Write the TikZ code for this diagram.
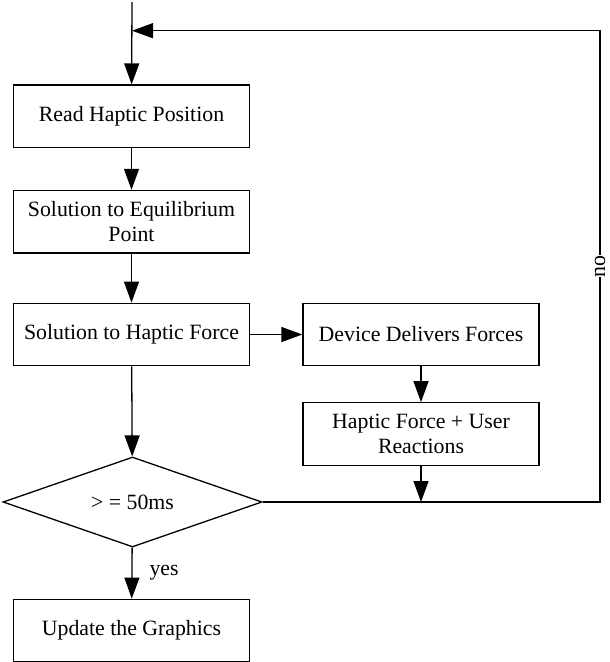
\documentclass[tikz,border=0pt]{standalone}
\usepackage{fontspec}
\setmainfont{Liberation Serif}
\usetikzlibrary{arrows.meta,shapes.geometric}
\begin{document}
\begin{tikzpicture}[x=1pt,y=-1pt,
  line width=1.3pt,
  every node/.style={font=\fontsize{21.8}{25}\selectfont},
  procbox/.style={draw,rectangle,align=center,inner sep=0pt,
    minimum width=236pt,minimum height=62.5pt},
  decision/.style={draw,diamond,inner sep=0pt,aspect=2.88,
    minimum width=259pt,minimum height=90pt},
  flow/.style={-{Triangle[length=21pt,width=15pt]}},
  lbl/.style={inner sep=0pt}]
  \useasboundingbox (0,0) rectangle (610,662);

  % process steps
  \node[procbox] (read)   at (131.5,116.3) {Read Haptic Position};
  \node[procbox] (equil)  at (131.5,221.7) {Solution to Equilibrium\\Point};
  \node[procbox] (force)  at (131.5,334.5) {Solution to Haptic Force};
  \node[procbox] (device) at (421,334.5)   {Device Delivers Forces};
  \node[procbox] (react)  at (421,434)     {Haptic Force + User\\Reactions};
  \node[decision] (check) at (132.5,502)   {> = 50ms};
  \node[procbox] (update) at (131.5,630.5) {Update the Graphics};

  % loop routing points
  \coordinate (entry) at (132,2);
  \coordinate (merge) at (132,30.7);
  \coordinate (loopTR) at (600,30.7);
  \coordinate (loopBR) at (600,502);
  \coordinate (join) at (react.south |- check.east);

  % connectors
  \draw[flow] (entry) -- (read);
  \draw[flow] (read) -- (equil);
  \draw[flow] (equil) -- (force);
  \draw[flow] (force) -- (device);
  \draw[flow] (force) -- (check);
  \draw[flow] (device) -- (react);
  \draw[flow] (react) -- (join);
  \draw[flow] (check) -- node[lbl,right=17pt] {yes} (update);
  \draw[flow] (check.east) -- (loopBR) -- node[lbl,fill=white,rotate=90] {no} (loopTR) -- (merge);
\end{tikzpicture}
\end{document}
